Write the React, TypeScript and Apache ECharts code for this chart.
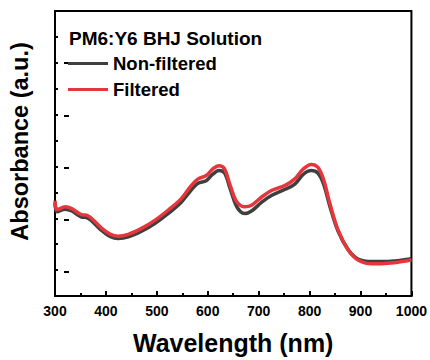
import React, { useEffect, useRef } from "react";
import * as echarts from "echarts";

const wavelengths = [300, 304, 320, 333, 352, 362, 372, 392, 408, 424, 444, 470, 496, 522, 548, 568, 581, 597, 610, 622, 633, 643, 655, 664, 673, 686, 706, 725, 752, 771, 788, 803, 816, 827, 840, 856, 876, 895, 922, 954, 994, 1000];

const filtered = [0.368, 0.333, 0.344, 0.337, 0.314, 0.312, 0.299, 0.261, 0.239, 0.231, 0.238, 0.261, 0.292, 0.331, 0.376, 0.427, 0.452, 0.465, 0.491, 0.503, 0.491, 0.433, 0.369, 0.350, 0.344, 0.350, 0.382, 0.407, 0.427, 0.452, 0.491, 0.508, 0.497, 0.452, 0.356, 0.254, 0.177, 0.139, 0.124, 0.126, 0.137, 0.139];

const nonFiltered = [0.360, 0.325, 0.335, 0.328, 0.305, 0.303, 0.290, 0.252, 0.230, 0.222, 0.228, 0.250, 0.280, 0.318, 0.362, 0.410, 0.435, 0.445, 0.470, 0.484, 0.475, 0.420, 0.352, 0.326, 0.318, 0.328, 0.362, 0.388, 0.412, 0.432, 0.470, 0.484, 0.475, 0.435, 0.345, 0.250, 0.178, 0.143, 0.133, 0.133, 0.142, 0.145];

const seriesNames = ["Non-filtered", "Filtered"];
const seriesColors = ["#3f3f3f", "#e6353b"];
const titleText = "PM6:Y6 BHJ Solution";
const xAxisName = "Wavelength (nm)";
const yAxisName = "Absorbance (a.u.)";

const FONT = "'Liberation Sans', Arial, sans-serif";

export default function App() {
  const ref = useRef<HTMLDivElement>(null);
  useEffect(() => {
    if (!ref.current) return;
    const chart = echarts.init(ref.current, null, { renderer: "svg" });
    const gridTop = 11;
    const gridH = 287;
    const unit = gridH / 11;
    const toPairs = (vals: number[]) => wavelengths.map((w, i) => [w, vals[i]]);
    chart.setOption({
      animation: false,
      backgroundColor: "#ffffff",
      textStyle: { fontFamily: FONT },
      title: {
        text: titleText,
        left: 69,
        top: 29,
        padding: 0,
        textStyle: { fontSize: 19, fontWeight: "bold", color: "#000", fontFamily: FONT },
      },
      legend: {
        orient: "vertical",
        left: 68,
        top: 54,
        padding: 0,
        itemWidth: 40,
        itemHeight: 3,
        itemGap: 7,
        icon: "rect",
        data: seriesNames,
        textStyle: { fontSize: 18.5, fontWeight: "bold", color: "#000", fontFamily: FONT, lineHeight: 18 },
      },
      grid: [
        { left: 55, top: gridTop, width: 357, height: gridH, show: true, borderColor: "#000", borderWidth: 2, containLabel: false },
        { left: 55, top: gridTop, width: 357, height: gridH - unit, show: false, containLabel: false },
      ],
      xAxis: [
        {
          type: "value",
          gridIndex: 0,
          min: 300,
          max: 1000,
          interval: 100,
          name: xAxisName,
          nameLocation: "middle",
          nameGap: 34,
          nameTextStyle: { fontSize: 25, fontWeight: "bold", color: "#000", fontFamily: FONT },
          axisLine: { show: true, lineStyle: { color: "#000", width: 2 } },
          axisTick: { show: true, inside: true, length: 5, lineStyle: { color: "#000", width: 2 } },
          minorTick: { show: true, splitNumber: 2, length: 3, lineStyle: { color: "#000", width: 2 } },
          axisLabel: {
            show: true,
            margin: 8,
            fontSize: 14,
            fontWeight: "bold",
            color: "#000",
            fontFamily: FONT,
            formatter: (v: number) => String(v),
          },
          splitLine: { show: false },
        },
        {
          type: "value",
          gridIndex: 1,
          min: 300,
          max: 1000,
          show: false,
        },
      ],
      yAxis: [
        {
          type: "value",
          gridIndex: 0,
          min: 0,
          max: 1.1,
          interval: 0.1,
          axisLine: { show: true, lineStyle: { color: "#000", width: 2 } },
          axisTick: { show: true, inside: true, length: 3, lineStyle: { color: "#000", width: 2 } },
          axisLabel: { show: false },
          splitLine: { show: false },
        },
        {
          type: "value",
          gridIndex: 1,
          min: 0,
          max: 1.0,
          interval: 0.2,
          name: yAxisName,
          nameLocation: "middle",
          nameGap: 32,
          nameTextStyle: { fontSize: 23.5, fontWeight: "bold", color: "#000", fontFamily: FONT },
          axisLine: { show: false },
          axisTick: { show: true, inside: true, length: 5, lineStyle: { color: "#000", width: 2 } },
          axisLabel: { show: false },
          splitLine: { show: false },
        },
      ],
      series: [
        {
          name: seriesNames[0],
          type: "line",
          xAxisIndex: 0,
          yAxisIndex: 0,
          data: toPairs(nonFiltered),
          showSymbol: false,
          smooth: 0.35,
          color: seriesColors[0],
          lineStyle: { color: seriesColors[0], width: 3.5 },
        },
        {
          name: seriesNames[1],
          type: "line",
          xAxisIndex: 0,
          yAxisIndex: 0,
          data: toPairs(filtered),
          showSymbol: false,
          smooth: 0.35,
          color: seriesColors[1],
          lineStyle: { color: seriesColors[1], width: 3.5 },
        },
      ],
    });
    return () => chart.dispose();
  }, []);
  return (
    <div
      ref={ref}
      style={{ position: "fixed", left: 0, top: 0, width: 430, height: 360, background: "#fff" }}
    />
  );
}
